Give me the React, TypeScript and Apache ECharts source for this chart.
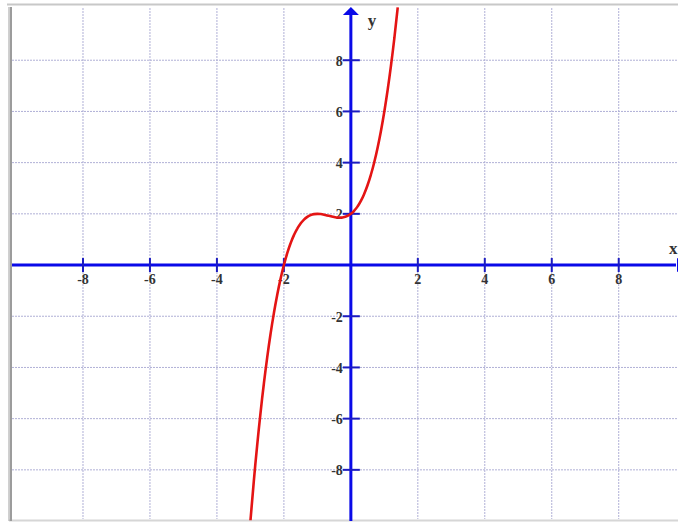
import React, { useEffect, useRef } from "react";
import * as echarts from "echarts";

// Sampled points of the plotted cubic
const curveX = [
  -3.0, -2.9, -2.8, -2.7, -2.6, -2.5, -2.4, -2.3, -2.2, -2.1, -2.0, -1.9, -1.8, -1.7, -1.6, -1.5,
  -1.4, -1.3, -1.2, -1.1, -1.0, -0.9, -0.8, -0.7, -0.6, -0.5, -0.4, -0.3, -0.2, -0.1, 0.0, 0.1,
  0.2, 0.3, 0.4, 0.5, 0.6, 0.7, 0.8, 0.9, 1.0, 1.1, 1.2, 1.3, 1.4,
];
const curveY = [
  -10.0, -8.469, -7.072, -5.803, -4.656, -3.625, -2.704, -1.887, -1.168, -0.541, 0.0, 0.461, 0.848,
  1.167, 1.424, 1.625, 1.776, 1.883, 1.952, 1.989, 2.0, 1.991, 1.968, 1.937, 1.904, 1.875, 1.856,
  1.853, 1.872, 1.919, 2.0, 2.121, 2.288, 2.507, 2.784, 3.125, 3.536, 4.023, 4.592, 5.249, 6.0,
  6.851, 7.808, 8.877, 10.064,
];

const xTicks = [-8, -6, -4, -2, 2, 4, 6, 8];
const xTickLabels = ["-8", "-6", "-4", "-2", "2", "4", "6", "8"];
const yTicks = [-8, -6, -4, -2, 2, 4, 6, 8];
const yTickLabels = ["-8", "-6", "-4", "-2", "2", "4", "6", "8"];

const xRange = [-10.12, 9.77];
const yRange = [-9.92, 10.04];

const AXIS_BLUE = "#0a0ae8";
const TICK_BLUE = "#1c1cc0";
const GRID_COLOR = "#b0b0d6";
const LABEL_FONT = "bold 14px 'Liberation Serif', 'DejaVu Serif', serif";
const NAME_FONT = "bold 17px 'Liberation Serif', 'DejaVu Serif', serif";

function textEl(text: string, x: number, y: number, align: string, vAlign: string, font: string) {
  return {
    type: "text",
    style: {
      text,
      x,
      y,
      font,
      fill: "#333",
      align,
      textAlign: align,
      verticalAlign: vAlign,
      textVerticalAlign: vAlign,
    },
  };
}

function drawAxes(params: any, api: any) {
  const cs = params.coordSys;
  const top = cs.y;
  const bottom = cs.y + cs.height;
  const left = cs.x;
  const right = cs.x + cs.width;
  const o = api.coord([0, 0]);
  const children: any[] = [];

  // dotted grid
  xTicks.forEach((v) => {
    const p = api.coord([v, 0]);
    children.push({
      type: "line",
      shape: { x1: p[0], y1: top, x2: p[0], y2: bottom },
      style: { stroke: GRID_COLOR, lineWidth: 1, lineDash: [2, 1] },
    });
  });
  yTicks.forEach((v) => {
    const p = api.coord([0, v]);
    children.push({
      type: "line",
      shape: { x1: left, y1: p[1], x2: right, y2: p[1] },
      style: { stroke: GRID_COLOR, lineWidth: 1, lineDash: [2, 1] },
    });
  });

  // axis lines
  children.push({
    type: "line",
    shape: { x1: left, y1: o[1], x2: right - 2, y2: o[1] },
    style: { stroke: AXIS_BLUE, lineWidth: 3 },
  });
  children.push({
    type: "line",
    shape: { x1: o[0], y1: bottom + 2, x2: o[0], y2: top + 6 },
    style: { stroke: AXIS_BLUE, lineWidth: 3 },
  });
  // arrow heads
  children.push({
    type: "polygon",
    shape: {
      points: [
        [o[0], top - 1],
        [o[0] - 8, top + 7],
        [o[0] + 8, top + 7],
      ],
    },
    style: { fill: AXIS_BLUE },
  });
  children.push({
    type: "polygon",
    shape: {
      points: [
        [right - 1, o[1] - 7],
        [right + 14, o[1]],
        [right - 1, o[1] + 7],
      ],
    },
    style: { fill: AXIS_BLUE },
  });

  // ticks and labels
  xTicks.forEach((v, i) => {
    const p = api.coord([v, 0]);
    children.push({
      type: "line",
      shape: { x1: p[0], y1: o[1] - 7, x2: p[0], y2: o[1] + 7 },
      style: { stroke: TICK_BLUE, lineWidth: 2 },
    });
    children.push(textEl(xTickLabels[i], p[0], o[1] + 14, "center", "middle", LABEL_FONT));
  });
  yTicks.forEach((v, i) => {
    const p = api.coord([0, v]);
    children.push({
      type: "line",
      shape: { x1: o[0] - 8, y1: p[1], x2: o[0] + 9, y2: p[1] },
      style: { stroke: TICK_BLUE, lineWidth: 2 },
    });
    children.push(textEl(yTickLabels[i], o[0] - 8, p[1] + 1, "right", "middle", LABEL_FONT));
  });

  // axis names
  children.push(textEl("y", o[0] + 17, top + 12, "left", "middle", NAME_FONT));
  children.push(textEl("x", right - 9, o[1] - 17, "left", "middle", NAME_FONT));

  return { type: "group", children };
}

export default function App() {
  const ref = useRef<HTMLDivElement>(null);

  useEffect(() => {
    if (!ref.current) return;
    const chart = echarts.init(ref.current, null, { renderer: "svg" });
    chart.setOption({
      animation: false,
      backgroundColor: "#ffffff",
      grid: { left: 12, top: 8, width: 666, height: 511 },
      xAxis: { type: "value", min: xRange[0], max: xRange[1], show: false },
      yAxis: { type: "value", min: yRange[0], max: yRange[1], show: false },
      graphic: [
        {
          type: "line",
          shape: { x1: 7, y1: 4.5, x2: 678, y2: 4.5 },
          style: { stroke: "#c8c8c8", lineWidth: 2 },
        },
        {
          type: "line",
          shape: { x1: 9, y1: 520.5, x2: 678, y2: 520.5 },
          style: { stroke: "#d6d6d6", lineWidth: 2 },
        },
        {
          type: "line",
          shape: { x1: 8.5, y1: 7, x2: 8.5, y2: 521 },
          style: { stroke: "#d0d0d0", lineWidth: 1 },
        },
        {
          type: "rect",
          shape: { x: 9.5, y: 7, width: 2.5, height: 514 },
          style: { fill: "#9c9c9c" },
        },
      ],
      series: [
        {
          type: "custom",
          renderItem: drawAxes,
          data: [[0, 0]],
          clip: false,
          silent: true,
          z: 1,
        },
        {
          type: "line",
          data: curveX.map((x, i) => [x, curveY[i]]),
          showSymbol: false,
          smooth: true,
          clip: true,
          lineStyle: { color: "#e41414", width: 2.6 },
          z: 5,
          silent: true,
        },
      ],
    });
    return () => chart.dispose();
  }, []);

  return (
    <div
      ref={ref}
      style={{ position: "fixed", left: 0, top: 0, width: 678, height: 524, background: "#fff" }}
    />
  );
}
